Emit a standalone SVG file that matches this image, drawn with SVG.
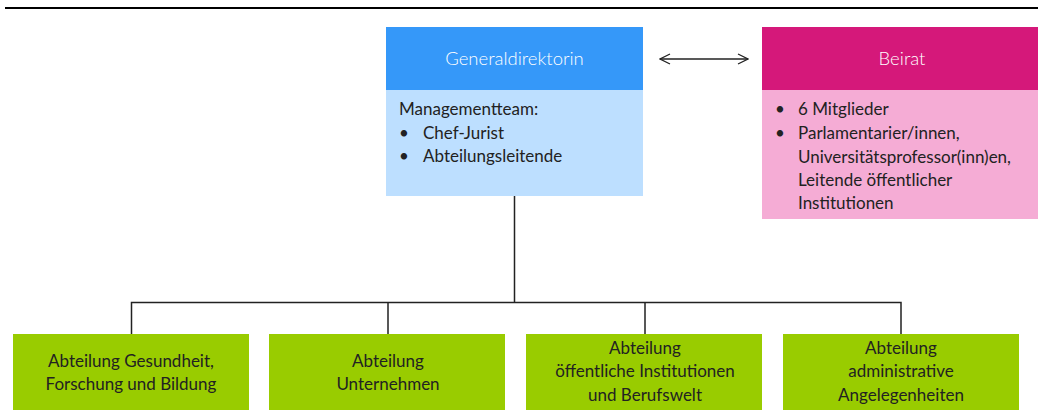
<svg xmlns="http://www.w3.org/2000/svg" width="1038" height="410" viewBox="0 0 1038 410">
<defs>
<style>
text{font-family:Lato,"Open Sans","Liberation Sans",sans-serif;font-size:17px;fill:#222}
.hd{fill:#fff;font-size:18.5px;font-weight:300}
.c{text-anchor:middle}
.ln{stroke:#222;stroke-width:1.5;fill:none}
.grn{fill:#99cc00}
</style>
<marker id="ah" viewBox="0 0 12 12" refX="11" refY="6" markerWidth="12" markerHeight="12" markerUnits="userSpaceOnUse" orient="auto-start-reverse">
<path d="M1,1 L11,6 L1,11" fill="none" stroke="#222" stroke-width="1.3"/>
</marker>
</defs>
<rect width="1038" height="410" fill="#fff"/>
<line x1="5" y1="8" x2="1038" y2="8" stroke="#000" stroke-width="2"/>
<g id="connectors">
<line class="ln" x1="660" y1="59" x2="748" y2="59" marker-start="url(#ah)" marker-end="url(#ah)"/>
<path class="ln" d="M514.5,196 V302.5 M131.5,334 V302.5 H901 V334 M388,302.5 V334 M645,302.5 V334"/>
</g>
<g id="generaldirektorin">
<rect x="386" y="27" width="257" height="63" fill="#3598f9"/>
<rect x="386" y="90" width="257" height="106" fill="#bddfff"/>
<text class="hd c" x="514.5" y="65">Generaldirektorin</text>
<text x="399" y="115">Managementteam:</text>
<text x="399" y="139">•</text><text x="423" y="139">Chef-Jurist</text>
<text x="399" y="162">•</text><text x="423" y="162">Abteilungsleitende</text>
</g>
<g id="beirat">
<rect x="762" y="27" width="276" height="63" fill="#d5187a"/>
<rect x="762" y="90" width="276" height="129" fill="#f5acd5"/>
<text class="hd c" x="902" y="65">Beirat</text>
<text x="775" y="115">•</text><text x="798" y="115">6 Mitglieder</text>
<text x="775" y="139">•</text><text x="798" y="139">Parlamentarier/innen,</text>
<text x="798" y="162.5">Universitätsprofessor(inn)en,</text>
<text x="798" y="186">Leitende öffentlicher</text>
<text x="798" y="209">Institutionen</text>
</g>
<g id="abt-gesundheit">
<rect class="grn" x="13" y="334" width="236" height="80"/>
<text class="c" x="131" y="367">Abteilung Gesundheit,</text>
<text class="c" x="131" y="390">Forschung und Bildung</text>
</g>
<g id="abt-unternehmen">
<rect class="grn" x="269" y="334" width="236" height="80"/>
<text class="c" x="388" y="367">Abteilung</text>
<text class="c" x="388" y="390">Unternehmen</text>
</g>
<g id="abt-oeffentlich">
<rect class="grn" x="526" y="334" width="236" height="80"/>
<text class="c" x="645" y="354">Abteilung</text>
<text class="c" x="645" y="377">öffentliche Institutionen</text>
<text class="c" x="645" y="400.5">und Berufswelt</text>
</g>
<g id="abt-administrativ">
<rect class="grn" x="783" y="334" width="236" height="80"/>
<text class="c" x="901" y="354">Abteilung</text>
<text class="c" x="901" y="377">administrative</text>
<text class="c" x="901" y="400.5">Angelegenheiten</text>
</g>
</svg>
